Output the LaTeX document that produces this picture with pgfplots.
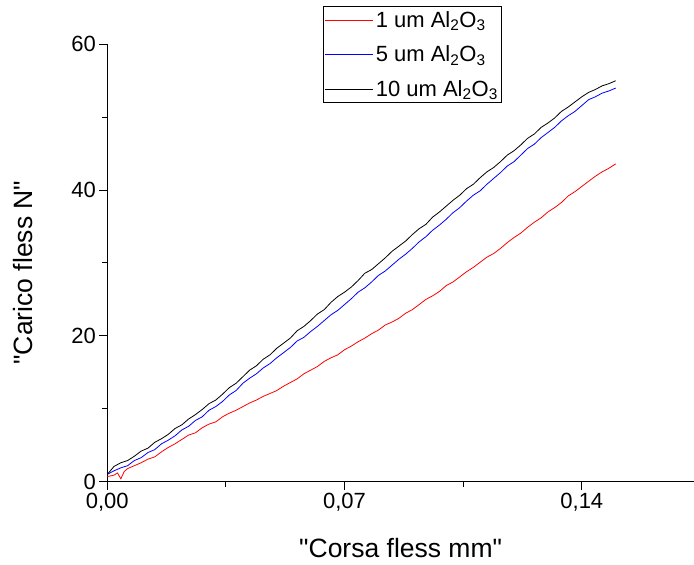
\documentclass[border=0pt]{standalone}
\usepackage{pgfplots}
\pgfplotsset{compat=1.18}
\usepackage{fontspec}
\setmainfont{Liberation Sans}[Ligatures=TeXOff]

\pgfplotstableread{
x y
0.000 1.0
0.002 2.1
0.004 2.6
0.006 2.9
0.008 3.5
0.010 4.2
0.012 4.6
0.014 5.4
0.016 5.9
0.018 6.5
0.020 7.3
0.022 7.8
0.024 8.6
0.026 9.2
0.028 9.9
0.030 10.7
0.032 11.2
0.034 12.0
0.036 12.9
0.038 13.5
0.040 14.4
0.042 15.3
0.044 15.9
0.046 16.8
0.048 17.4
0.050 18.3
0.052 19.0
0.054 19.7
0.056 20.7
0.058 21.3
0.060 22.1
0.062 23.0
0.064 23.6
0.066 24.6
0.068 25.4
0.070 26.0
0.072 26.7
0.074 27.6
0.076 28.6
0.078 29.1
0.080 29.9
0.082 30.7
0.084 31.6
0.086 32.3
0.088 33.0
0.090 33.9
0.092 34.7
0.094 35.3
0.096 36.3
0.098 37.0
0.100 37.8
0.102 38.6
0.104 39.3
0.106 40.2
0.108 40.8
0.110 41.7
0.112 42.5
0.114 43.1
0.116 43.9
0.118 44.8
0.120 45.4
0.122 46.2
0.124 47.1
0.126 47.7
0.128 48.6
0.130 49.2
0.132 49.9
0.134 50.8
0.136 51.4
0.138 52.1
0.140 52.8
0.142 53.4
0.144 53.8
0.146 54.3
0.148 54.6
0.150 55.0
}\blackdata

\pgfplotstableread{
x y
0.000 1.0
0.002 1.5
0.004 1.9
0.006 2.2
0.008 2.9
0.010 3.3
0.012 4.0
0.014 4.4
0.016 5.2
0.018 5.7
0.020 6.3
0.022 7.1
0.024 7.6
0.026 8.4
0.028 8.9
0.030 9.8
0.032 10.3
0.034 11.0
0.036 11.9
0.038 12.5
0.040 13.5
0.042 14.2
0.044 14.8
0.046 15.6
0.048 16.2
0.050 17.0
0.052 17.7
0.054 18.4
0.056 19.3
0.058 19.8
0.060 20.6
0.062 21.3
0.064 22.1
0.066 22.9
0.068 23.5
0.070 24.3
0.072 25.1
0.074 26.0
0.076 26.6
0.078 27.4
0.080 28.3
0.082 28.9
0.084 29.7
0.086 30.5
0.088 31.2
0.090 32.0
0.092 32.9
0.094 33.6
0.096 34.5
0.098 35.2
0.100 36.0
0.102 36.9
0.104 37.6
0.106 38.5
0.108 39.3
0.110 39.9
0.112 40.8
0.114 41.6
0.116 42.4
0.118 43.3
0.120 43.9
0.122 44.8
0.124 45.7
0.126 46.3
0.128 47.2
0.130 47.9
0.132 48.6
0.134 49.5
0.136 50.2
0.138 50.8
0.140 51.6
0.142 52.4
0.144 52.8
0.146 53.3
0.148 53.6
0.150 54.0
}\bluedata

\pgfplotstableread{
x y
0.000 0.7
0.002 0.9
0.003 1.2
0.004 0.4
0.005 1.4
0.006 1.8
0.008 2.2
0.010 2.6
0.012 3.1
0.014 3.4
0.016 4.1
0.018 4.7
0.020 5.2
0.022 5.8
0.024 6.4
0.026 6.7
0.028 7.4
0.030 7.9
0.032 8.2
0.034 8.9
0.036 9.4
0.038 9.8
0.040 10.3
0.042 10.8
0.044 11.2
0.046 11.7
0.048 12.1
0.050 12.5
0.052 13.1
0.054 13.6
0.056 14.1
0.058 14.8
0.060 15.3
0.062 15.8
0.064 16.5
0.066 17.0
0.068 17.4
0.070 18.1
0.072 18.6
0.074 19.2
0.076 19.7
0.078 20.3
0.080 20.8
0.082 21.5
0.084 21.9
0.086 22.4
0.088 23.1
0.090 23.6
0.092 24.3
0.094 25.0
0.096 25.5
0.098 26.1
0.100 26.9
0.102 27.4
0.104 28.1
0.106 28.8
0.108 29.4
0.110 30.1
0.112 30.8
0.114 31.3
0.116 32.0
0.118 32.8
0.120 33.5
0.122 34.1
0.124 34.9
0.126 35.6
0.128 36.2
0.130 37.0
0.132 37.6
0.134 38.3
0.136 39.2
0.138 39.8
0.140 40.5
0.142 41.2
0.144 41.9
0.146 42.5
0.148 43.0
0.150 43.6
}\reddata

\begin{document}
\begin{tikzpicture}
\begin{axis}[
  scale only axis,
  width=586.7pt, height=437.4pt,
  xmin=0, xmax=0.1731,
  ymin=0, ymax=60,
  axis lines=left,
  axis line style={-, line width=1pt},
  tick style={line width=1pt, black},
  tick align=outside,
  major tick length=8pt,
  minor tick length=5pt,
  xtick={0,0.07,0.14},
  xticklabels={{0,00},{0,07},{0,14}},
  minor xtick={0.035,0.105},
  ytick={0,20,40,60},
  minor ytick={10,30,50},
  /pgf/number format/assume math mode=true,
  scaled x ticks=false,
  ticklabel style={font=\fontsize{22}{26}\selectfont},
  xlabel={"Corsa fless mm"},
  ylabel={"Carico fless N"},
  label style={font=\fontsize{26.5}{30}\selectfont},
  xlabel style={at={(axis description cs:0.5,-0.151)}, anchor=center},
  ylabel style={at={(axis description cs:-0.1437,0.478)}, anchor=center},
  legend cell align=left,
  legend style={at={(rel axis cs:0.367,1.0876)}, anchor=north west,
    draw=black, line width=0.8pt, font=\fontsize{22}{25}\selectfont,
    inner xsep=2pt, inner ysep=3pt, row sep=13pt},
  legend image code/.code={\draw[#1] plot coordinates {(0pt,0pt) (24pt,0pt) (48pt,0pt)};},
]
\addplot[red, line width=0.8pt] table[x=x,y=y] {\reddata};
\addlegendentry{1 um Al\textsubscript{2}O\textsubscript{3}}
\addplot[blue, line width=0.8pt] table[x=x,y=y] {\bluedata};
\addlegendentry{5 um Al\textsubscript{2}O\textsubscript{3}}
\addplot[black, line width=0.8pt] table[x=x,y=y] {\blackdata};
\addlegendentry{10 um Al\textsubscript{2}O\textsubscript{3}}
\coordinate (sw) at (rel axis cs:0,0);
\coordinate (ne) at (rel axis cs:1,1);
\end{axis}
\pgfresetboundingbox
\path[use as bounding box] ([xshift=-107.3pt,yshift=-83.3pt]sw) rectangle ([yshift=44.3pt]ne);
\end{tikzpicture}
\end{document}
